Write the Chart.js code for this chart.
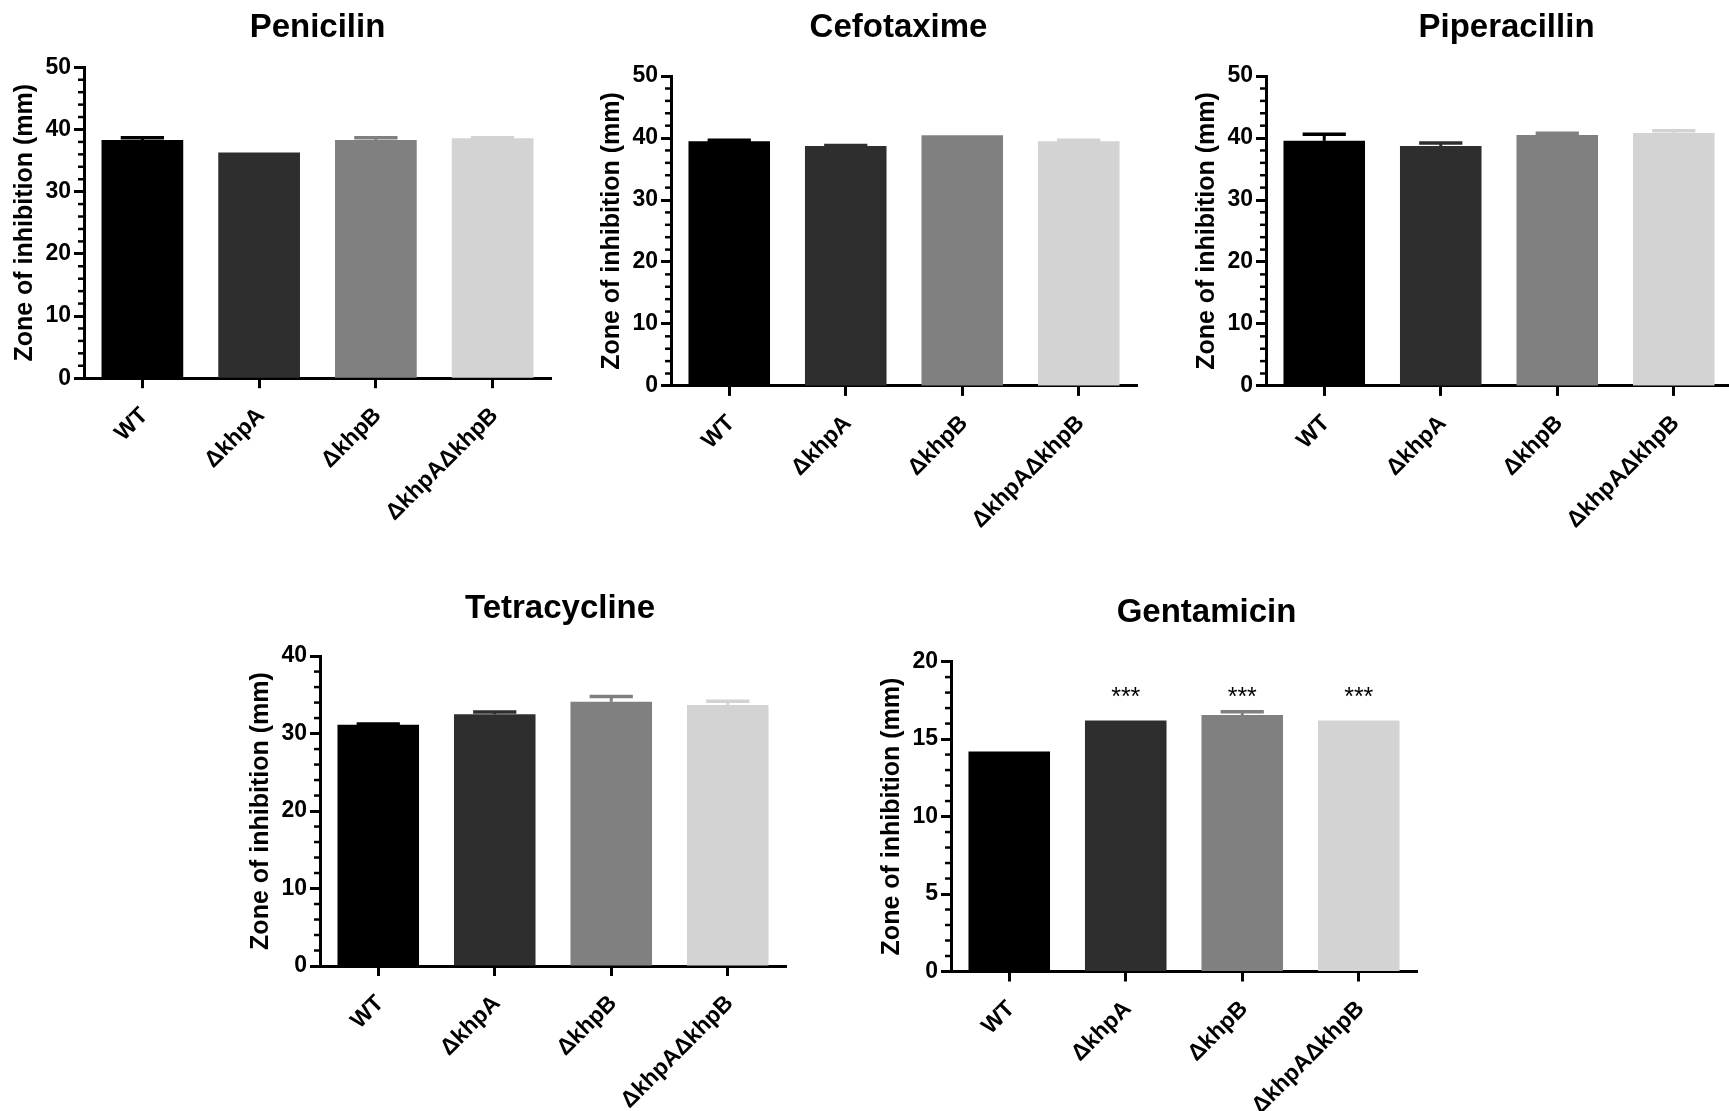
<!DOCTYPE html>
<html>
<head>
<meta charset="utf-8">
<script src="https://cdn.jsdelivr.net/npm/chart.js@4.4.1/dist/chart.umd.min.js"></script>
<style>
html,body{margin:0;padding:0;background:#ffffff;width:1729px;height:1111px;overflow:hidden;position:relative}
.panel{position:absolute}
.panel canvas{display:block}
</style>
</head>
<body>
<script>
// ---------------- DATA ----------------
const categories = ['WT', 'ΔkhpA', 'ΔkhpB', 'ΔkhpAΔkhpB'];
const yAxisTitle = 'Zone of inhibition (mm)';

const penicilinMeans = [38.3, 36.3, 38.3, 38.6];
const penicilinErrors = [0.37, 0, 0.37, 0.05];

const cefotaximeMeans = [39.5, 38.7, 40.45, 39.5];
const cefotaximeErrors = [0.15, 0.09, 0, 0.15];

const piperacillinMeans = [39.55, 38.7, 40.5, 40.8];
const piperacillinErrors = [1.05, 0.5, 0.26, 0.36];

const tetracyclineMeans = [31.15, 32.5, 34.1, 33.7];
const tetracyclineErrors = [0.08, 0.29, 0.67, 0.47];

const gentamicinMeans = [14.2, 16.2, 16.55, 16.2];
const gentamicinErrors = [0, 0, 0.21, 0];
const gentamicinSignificance = ['', '***', '***', '***'];

const ticks0to50 = [0, 10, 20, 30, 40, 50];
const minor0to50 = [2, 4, 6, 8, 12, 14, 16, 18, 22, 24, 26, 28, 32, 34, 36, 38, 42, 44, 46, 48];
const ticks0to40 = [0, 10, 20, 30, 40];
const minor0to40 = [2, 4, 6, 8, 12, 14, 16, 18, 22, 24, 26, 28, 32, 34, 36, 38];
const ticks0to20 = [0, 5, 10, 15, 20];
const minor0to20 = [1, 2, 3, 4, 6, 7, 8, 9, 11, 12, 13, 14, 16, 17, 18, 19];

// ---------------- STYLE ----------------
const FONT = '"Liberation Sans", Arial, Helvetica, sans-serif';
const barColors = ['#000000', '#2e2e2e', '#808080', '#d3d3d3'];
const Y_W = 74;     // fixed width of the y scale box
const X_H = 160;    // fixed height of the x scale box
const TITLE_SIZE = 33;

const panels = [
  {title: 'Penicilin', means: penicilinMeans, errors: penicilinErrors, yMax: 50, yTicks: ticks0to50, yMinor: minor0to50,
   axisX: 84, axisRight: 551, axisTop: 67.3, axisBottom: 378.2, titleX: 317.6, titleY: 27.4},
  {title: 'Cefotaxime', means: cefotaximeMeans, errors: cefotaximeErrors, yMax: 50, yTicks: ticks0to50, yMinor: minor0to50,
   axisX: 671, axisRight: 1137, axisTop: 76.1, axisBottom: 385.9, titleX: 898.7, titleY: 27.4},
  {title: 'Piperacillin', means: piperacillinMeans, errors: piperacillinErrors, yMax: 50, yTicks: ticks0to50, yMinor: minor0to50,
   axisX: 1266, axisRight: 1732, axisTop: 76.1, axisBottom: 385.9, titleX: 1506.3, titleY: 27.4},
  {title: 'Tetracycline', means: tetracyclineMeans, errors: tetracyclineErrors, yMax: 40, yTicks: ticks0to40, yMinor: minor0to40,
   axisX: 320, axisRight: 786, axisTop: 656.1, axisBottom: 966, titleX: 560.2, titleY: 608.5},
  {title: 'Gentamicin', means: gentamicinMeans, errors: gentamicinErrors, yMax: 20, yTicks: ticks0to20, yMinor: minor0to20,
   axisX: 951, axisRight: 1417, axisTop: 661.6, axisBottom: 971.5, titleX: 1206.4, titleY: 612.9,
   sig: gentamicinSignificance, sigValue: 18.0}
];

function overlayPlugin(spec) {
  return {
    id: 'overlay',
    afterDatasetsDraw(chart) {
      const ctx = chart.ctx;
      const ys = chart.scales.y;
      const meta = chart.getDatasetMeta(0);
      const left = chart.chartArea.left;
      ctx.save();
      // minor ticks
      ctx.strokeStyle = '#000';
      ctx.lineWidth = 2.5;
      spec.yMinor.forEach(v => {
        const py = ys.getPixelForValue(v);
        ctx.beginPath();
        ctx.moveTo(left - 6, py);
        ctx.lineTo(left, py);
        ctx.stroke();
      });
      // error bars (upper only, same colour as bar)
      meta.data.forEach((bar, i) => {
        const err = spec.errors[i];
        if (!err) return;
        const y0 = ys.getPixelForValue(spec.means[i]);
        const y1 = ys.getPixelForValue(spec.means[i] + err);
        ctx.strokeStyle = barColors[i];
        ctx.lineWidth = 3;
        ctx.beginPath();
        ctx.moveTo(bar.x, y0);
        ctx.lineTo(bar.x, y1);
        ctx.stroke();
        ctx.lineWidth = 3.5;
        const hw = bar.width * 0.265;
        ctx.beginPath();
        ctx.moveTo(bar.x - hw, y1);
        ctx.lineTo(bar.x + hw, y1);
        ctx.stroke();
      });
      // significance
      if (spec.sig) {
        ctx.fillStyle = '#000';
        ctx.font = '25px ' + FONT;
        ctx.textAlign = 'center';
        ctx.textBaseline = 'alphabetic';
        meta.data.forEach((bar, i) => {
          if (spec.sig[i]) ctx.fillText(spec.sig[i], bar.x, ys.getPixelForValue(spec.sigValue) + 12);
        });
      }
      ctx.restore();
    }
  };
}

function makeChart(spec) {
  const L = Math.round(spec.axisX - Y_W);
  const yW = spec.axisX - L;
  const R = Math.round(2 * spec.titleX - L);
  const T = Math.round(spec.titleY - 4 - TITLE_SIZE / 2);
  const W = R - L;
  const H = Math.round(spec.axisBottom - T + X_H);
  const xH = H - (spec.axisBottom - T);
  const padR = R - spec.axisRight;
  const wrap = document.createElement('div');
  wrap.className = 'panel';
  wrap.style.left = L + 'px';
  wrap.style.top = T + 'px';
  wrap.style.width = W + 'px';
  wrap.style.height = H + 'px';
  const canvas = document.createElement('canvas');
  canvas.width = W; canvas.height = H;
  canvas.style.width = W + 'px'; canvas.style.height = H + 'px';
  wrap.appendChild(canvas);
  document.body.appendChild(wrap);

  const tickFont = {family: FONT, size: 23, weight: 'bold', lineHeight: 1.2};

  new Chart(canvas, {
    type: 'bar',
    data: {
      labels: categories,
      datasets: [{
        data: spec.means,
        backgroundColor: barColors,
        borderWidth: 0,
        barPercentage: 0.7,
        categoryPercentage: 1
      }]
    },
    options: {
      responsive: false,
      animation: false,
      devicePixelRatio: 1,
      layout: {padding: 0},
      plugins: {
        legend: {display: false},
        tooltip: {enabled: false},
        title: {
          display: true,
          fullSize: true,
          text: spec.title,
          color: '#000',
          font: {family: FONT, size: TITLE_SIZE, weight: 'bold', lineHeight: 1},
          padding: {top: 4, bottom: spec.axisTop - T - 4 - TITLE_SIZE}
        }
      },
      scales: {
        x: {
          grid: {display: true, drawOnChartArea: false, offset: false, tickLength: 10, tickWidth: 3, tickColor: '#000'},
          border: {display: true, color: '#000', width: 3},
          ticks: {font: tickFont, color: '#000', minRotation: 45, maxRotation: 45, padding: 14, labelOffset: 2, autoSkip: false},
          afterFit: s => { s.height = xH; }
        },
        y: {
          min: 0,
          max: spec.yMax,
          afterBuildTicks: s => { s.ticks = spec.yTicks.map(v => ({value: v})); },
          grid: {display: true, drawOnChartArea: false, tickLength: 10, tickWidth: 3, tickColor: '#000'},
          border: {display: true, color: '#000', width: 3},
          ticks: {font: tickFont, color: '#000', padding: 3, autoSkip: false},
          title: {display: true, text: yAxisTitle, color: '#000', font: {family: FONT, size: 25, weight: 'bold', lineHeight: 1.2}, padding: {top: 0, bottom: 0}},
          afterFit: s => { s.width = yW; }
        },
        spacer: {
          type: 'linear',
          axis: 'y',
          position: 'right',
          display: true,
          grid: {display: false, drawTicks: false},
          border: {display: false},
          ticks: {display: false},
          afterFit: s => { s.width = padR; }
        }
      }
    },
    plugins: [overlayPlugin(spec)]
  });
}

panels.forEach(makeChart);
</script>
</body>
</html>
